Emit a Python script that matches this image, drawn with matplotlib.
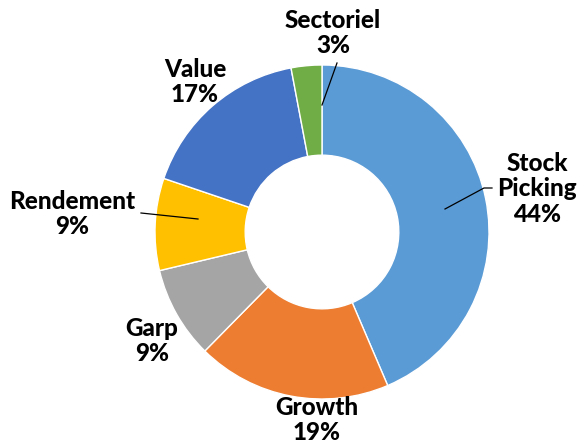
import matplotlib
matplotlib.use("Agg")
import matplotlib.pyplot as plt

# parts du portefeuille, dans l'ordre horaire depuis midi
labels = ["Stock\nPicking", "Growth", "Garp", "Rendement", "Value", "Sectoriel"]
values = [44, 19, 9, 9, 17, 3]
colors = ["#5B9BD5", "#ED7D31", "#A5A5A5", "#FFC000", "#4472C4", "#70AD47"]

plt.rcParams["font.family"] = ["Lato", "DejaVu Sans"]

fig = plt.figure(figsize=(5.78, 4.43), dpi=100)
ax = fig.add_axes([0, 0, 1, 1])

ax.pie(
    values,
    colors=colors,
    startangle=90,
    counterclock=False,
    radius=1.0,
    wedgeprops=dict(width=0.54, edgecolor="white", linewidth=1),
)

# conversion pixels -> coordonnées du graphique (centre 322,232 ; rayon 167 px)
def px(x, y):
    return ((x - 322) / 167.0, (232 - y) / 167.0)

label_pos = [(537, 189), (317, 420), (152, 341), (72, 214), (195, 82), (333, 33)]
leaders = [
    [(492, 188), (484, 188), (445, 209)],
    None,
    None,
    [(141, 213), (198, 219)],
    None,
    [(337, 63), (322, 105)],
]

for lab, v, pos, lead in zip(labels, values, label_pos, leaders):
    x, y = px(*pos)
    ax.text(x, y, f"{lab}\n{v}%", ha="center", va="center",
            fontsize=17.5, fontweight="black", color="black", linespacing=1.15)
    if lead:
        pts = [px(*p) for p in lead]
        ax.plot([p[0] for p in pts], [p[1] for p in pts], color="black", lw=0.9)

ax.set_xlim(-322 / 167.0, (578 - 322) / 167.0)
ax.set_ylim(-(443 - 232) / 167.0, 232 / 167.0)
ax.set_aspect("equal")
ax.axis("off")

fig.savefig("out.png", dpi=100)
